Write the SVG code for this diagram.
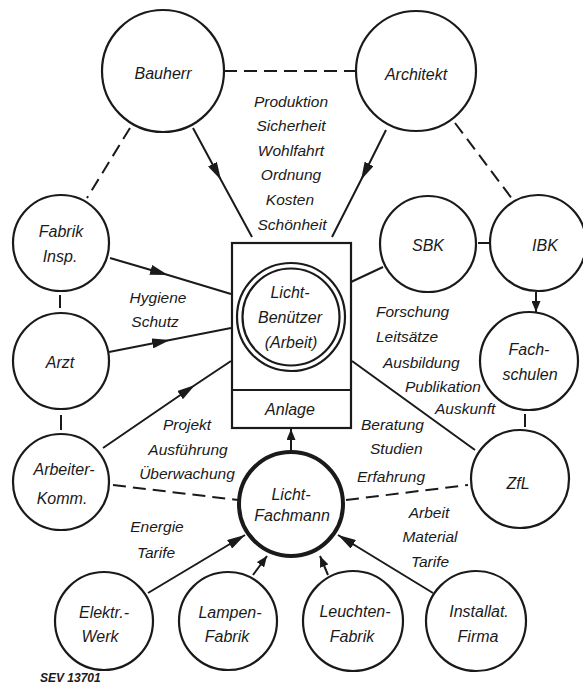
<svg xmlns="http://www.w3.org/2000/svg" width="583" height="684" viewBox="0 0 583 684">
<style>
text{font-family:"Liberation Sans","DejaVu Sans",sans-serif;font-style:italic;font-size:16px;fill:#1a1a1a;text-anchor:middle}
.lbl{font-size:15.5px}
.st{text-anchor:start}
.node{fill:#fff;stroke:#1a1a1a;stroke-width:2.2}
.thick{stroke-width:4}
.ln{stroke:#1a1a1a;stroke-width:2;fill:none}
.dash{stroke-dasharray:13 7}
.sev{font-weight:bold;font-size:12px;text-anchor:start}
</style>
<defs>
<marker id="ah" markerUnits="userSpaceOnUse" markerWidth="18" markerHeight="10" refX="18" refY="5" orient="auto"><path d="M0,0 L18,5 L0,10 z" fill="#1a1a1a"/></marker>
<marker id="ahs" markerUnits="userSpaceOnUse" markerWidth="11" markerHeight="9" refX="11" refY="4.5" orient="auto"><path d="M0,0 L11,4.5 L0,9 z" fill="#1a1a1a"/></marker>
</defs>
<rect width="583" height="684" fill="#fff"/>
<g id="connectors">
<line class="ln dash" x1="224" y1="71" x2="356" y2="71"/>
<line class="ln dash" x1="130" y1="128" x2="87" y2="198"/>
<line class="ln dash" x1="455" y1="123" x2="513" y2="200"/>
<line class="ln dash" x1="113" y1="485" x2="238" y2="500"/>
<line class="ln dash" x1="346" y1="500" x2="468" y2="485"/>
<line class="ln" x1="60" y1="295" x2="60" y2="308"/>
<line class="ln" x1="61" y1="415" x2="61" y2="430"/>
<line class="ln" x1="478" y1="243" x2="489" y2="243"/>
<line class="ln" x1="525" y1="414" x2="525" y2="427"/>
<line class="ln" x1="383" y1="267" x2="351" y2="282"/>
<line class="ln" x1="352" y1="361" x2="475" y2="450"/>
<path class="ln" marker-mid="url(#ah)" d="M193,128 L221,180 L252,237"/>
<path class="ln" marker-mid="url(#ah)" d="M386,130 L361,180 L332,237"/>
<path class="ln" marker-mid="url(#ah)" d="M110,258 L168,275 L231,294"/>
<path class="ln" marker-mid="url(#ah)" d="M109,352 L170,340 L231,328"/>
<path class="ln" marker-mid="url(#ah)" d="M103,448 L195,385 L231,361"/>
<line class="ln" marker-end="url(#ah)" x1="148" y1="593" x2="245" y2="535"/>
<line class="ln" marker-end="url(#ahs)" x1="253" y1="575" x2="267" y2="556"/>
<line class="ln" marker-end="url(#ahs)" x1="328" y1="575" x2="320" y2="556"/>
<line class="ln" marker-end="url(#ah)" x1="433" y1="593" x2="338" y2="535"/>
<line class="ln" marker-end="url(#ahs)" x1="291" y1="452" x2="291" y2="429"/>
<line class="ln" marker-end="url(#ahs)" x1="536" y1="292" x2="536" y2="312"/>
</g>
<g id="bauherr"><circle class="node" cx="163" cy="71" r="61"/><text x="163" y="79">Bauherr</text></g>
<g id="architekt"><circle class="node" cx="416" cy="71" r="60"/><text x="416" y="80">Architekt</text></g>
<g id="fabrik-insp"><circle class="node" cx="61" cy="243" r="48"/><text x="61" y="237">Fabrik</text><text x="60" y="262">Insp.</text></g>
<g id="arzt"><circle class="node" cx="61" cy="361" r="48"/><text x="60" y="368">Arzt</text></g>
<g id="arbeiter-komm"><circle class="node" cx="61" cy="482" r="48"/><text x="64" y="475">Arbeiter-</text><text x="62" y="504">Komm.</text></g>
<g id="sbk"><circle class="node" cx="428" cy="244" r="48"/><text x="428" y="251">SBK</text></g>
<g id="ibk"><circle class="node" cx="538" cy="243" r="48"/><text x="545" y="251">IBK</text></g>
<g id="fachschulen"><circle class="node" cx="529" cy="361" r="49"/><text x="529" y="355">Fach-</text><text x="530" y="380">schulen</text></g>
<g id="zfl"><circle class="node" cx="520" cy="479" r="49"/><text x="518" y="489">ZfL</text></g>
<g id="licht-benuetzer">
<rect x="232" y="243" width="119" height="185" fill="#fff" stroke="#1a1a1a" stroke-width="2.2"/>
<line class="ln" x1="232" y1="390" x2="351" y2="390"/>
<circle class="node" cx="291" cy="317" r="54"/>
<circle class="node" cx="291" cy="317" r="48.5"/>
<text x="290" y="298">Licht-</text><text x="290" y="323">Benützer</text><text x="291" y="348">(Arbeit)</text>
<text x="290" y="415">Anlage</text>
</g>
<g id="licht-fachmann"><circle class="node thick" cx="291" cy="504" r="52"/><text x="291" y="500">Licht-</text><text x="292" y="521">Fachmann</text></g>
<g id="elektr-werk"><circle class="node" cx="104" cy="621" r="49"/><text x="104" y="618">Elektr.-</text><text x="100" y="642">Werk</text></g>
<g id="lampen-fabrik"><circle class="node" cx="228" cy="621" r="49"/><text x="230" y="618">Lampen-</text><text x="227" y="642">Fabrik</text></g>
<g id="leuchten-fabrik"><circle class="node" cx="353" cy="621" r="50"/><text x="355" y="617">Leuchten-</text><text x="352" y="642">Fabrik</text></g>
<g id="installat-firma"><circle class="node" cx="476" cy="621" r="50"/><text x="479" y="617">Installat.</text><text x="478" y="642">Firma</text></g>
<g id="labels">
<text class="lbl" x="291" y="107">Produktion</text>
<text class="lbl" x="291" y="131">Sicherheit</text>
<text class="lbl" x="291" y="156">Wohlfahrt</text>
<text class="lbl" x="291" y="180">Ordnung</text>
<text class="lbl" x="290" y="205">Kosten</text>
<text class="lbl" x="292" y="230">Schönheit</text>
<text class="lbl" x="158" y="303">Hygiene</text>
<text class="lbl" x="155" y="327">Schutz</text>
<text class="lbl" x="187" y="430">Projekt</text>
<text class="lbl" x="188" y="455">Ausführung</text>
<text class="lbl" x="187" y="479">Überwachung</text>
<text class="lbl" x="157" y="532">Energie</text>
<text class="lbl" x="156" y="558">Tarife</text>
<text class="lbl st" x="376" y="317">Forschung</text>
<text class="lbl st" x="376" y="342">Leitsätze</text>
<text class="lbl st" x="383" y="368">Ausbildung</text>
<text class="lbl st" x="405" y="392">Publikation</text>
<text class="lbl st" x="435" y="414">Auskunft</text>
<text class="lbl st" x="361" y="430">Beratung</text>
<text class="lbl st" x="370" y="454">Studien</text>
<text class="lbl st" x="357" y="482">Erfahrung</text>
<text class="lbl" x="429" y="518">Arbeit</text>
<text class="lbl" x="430" y="542">Material</text>
<text class="lbl" x="430" y="567">Tarife</text>
<text class="sev" x="40" y="682">SEV 13701</text>
</g>
</svg>
